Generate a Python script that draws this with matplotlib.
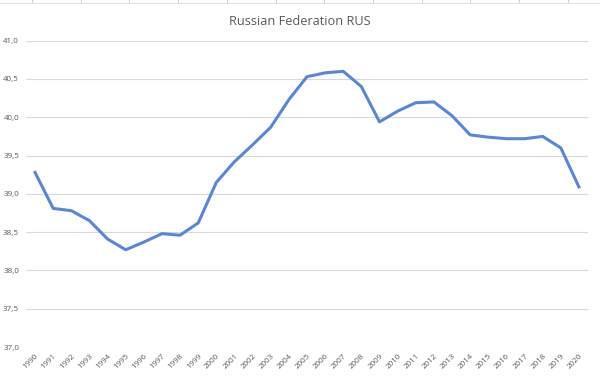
import matplotlib
matplotlib.use("Agg")
from matplotlib import pyplot as plt
from matplotlib.ticker import FuncFormatter

years = [str(y) for y in range(1990, 2021)]
values = [39.28, 38.81, 38.78, 38.65, 38.41, 38.27, 38.37, 38.48, 38.46, 38.62,
          39.15, 39.42, 39.64, 39.87, 40.23, 40.53, 40.58, 40.60, 40.40, 39.94,
          40.08, 40.19, 40.20, 40.02, 39.77, 39.74, 39.72, 39.72, 39.75, 39.60,
          39.09]
y_ticks = [37.0, 37.5, 38.0, 38.5, 39.0, 39.5, 40.0, 40.5, 41.0]

plt.rcParams["font.family"] = ["Open Sans", "DejaVu Sans"]
text_color = "#595959"

fig = plt.figure(figsize=(6, 3.76), dpi=100)
ax = fig.add_axes([0.0433, 0.0771, 0.9367, 0.8147])

# faint spreadsheet cell lines peeking in at the top
for xf in [0.0533 + i * 0.0812 for i in range(12)]:
    fig.add_artist(plt.Line2D([xf, xf], [0.991, 1.0], color="#D0D0D0", lw=0.8))
fig.add_artist(plt.Line2D([0, 1], [0.991, 0.991], color="#E3E3E3", lw=0.8))

x = list(range(len(years)))
ax.plot(x, values, color="#5B87D2", lw=2.2, solid_joinstyle="round")

ax.set_xlim(-0.5, len(years) - 0.5)
ax.set_ylim(37.0, 41.0)
ax.set_yticks(y_ticks)
ax.yaxis.set_major_formatter(FuncFormatter(lambda v, p: f"{v:.1f}".replace(".", ",")))
ax.set_xticks(x)
ax.set_xticklabels(years, rotation=45, ha="right", rotation_mode="anchor")

ax.grid(axis="y", color="#D9D9D9", lw=0.8)
ax.set_axisbelow(True)
for s in ax.spines.values():
    s.set_visible(False)
ax.tick_params(axis="y", length=0, colors=text_color, labelsize=5.8, pad=5)
ax.tick_params(axis="x", length=0, colors=text_color, labelsize=5.8, pad=4)

fig.suptitle("Russian Federation RUS", y=0.96, fontsize=9.2, color=text_color)

fig.savefig("out.png", dpi=100)
